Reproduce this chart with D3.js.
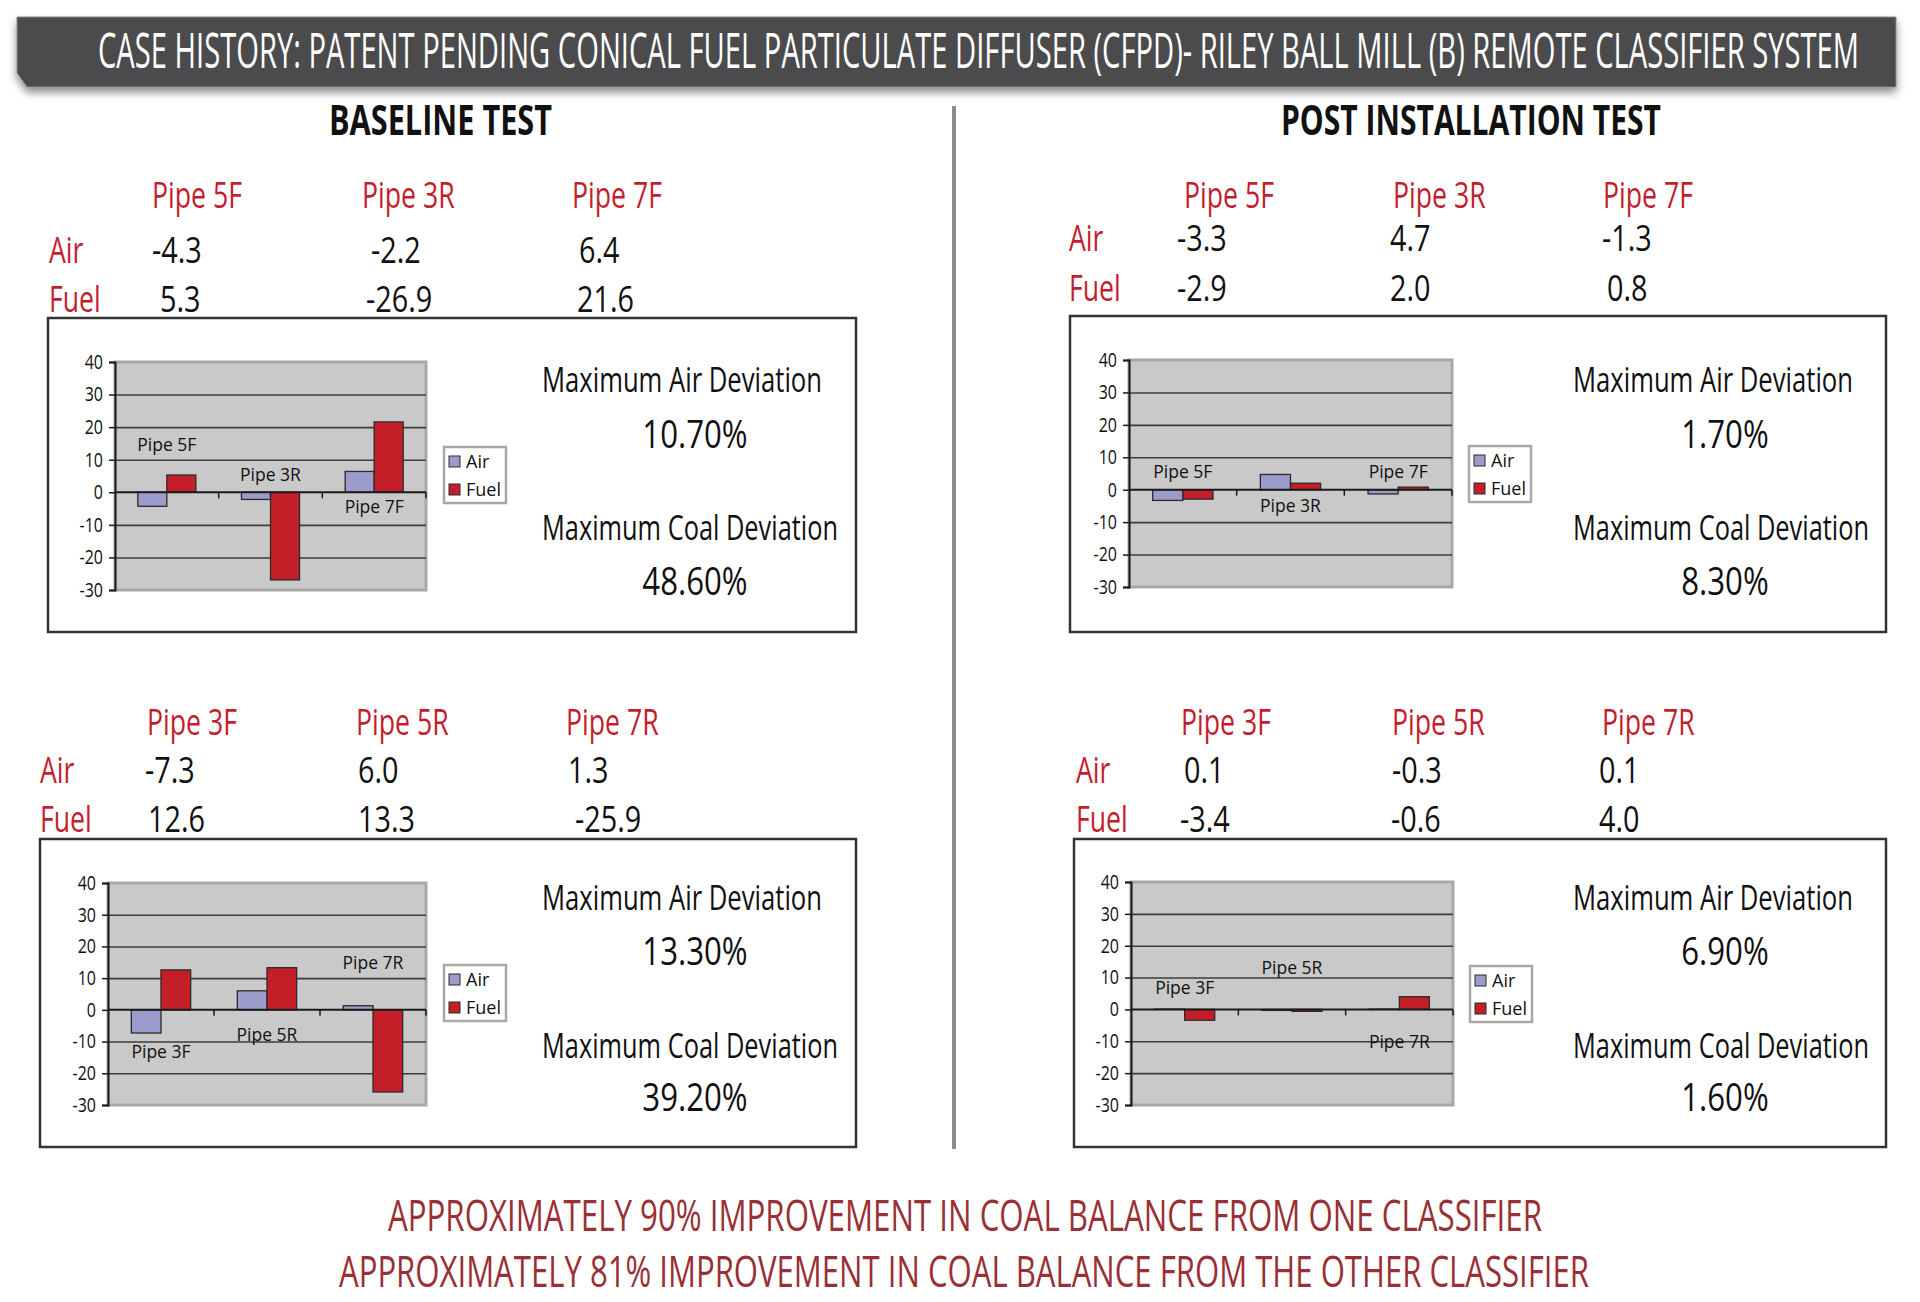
<!DOCTYPE html>
<html>
<head>
<meta charset="utf-8">
<script src="https://cdn.jsdelivr.net/npm/d3@7"></script>
<style>
  body { margin: 0; background: #fff; }
  text { font-family: "Open Sans", "Noto Sans", sans-serif; }
</style>
</head>
<body>
<script>
// chart values
var pipesTop = ["Pipe 5F", "Pipe 3R", "Pipe 7F"];
var pipesBottom = ["Pipe 3F", "Pipe 5R", "Pipe 7R"];
var seriesNames = ["Air", "Fuel"];
var yTicks = [-30, -20, -10, 0, 10, 20, 30, 40];

var baseTopAir = [-4.3, -2.2, 6.4];
var baseTopFuel = [5.3, -26.9, 21.6];
var postTopAir = [-3.3, 4.7, -1.3];
var postTopFuel = [-2.9, 2.0, 0.8];
var baseBotAir = [-7.3, 6.0, 1.3];
var baseBotFuel = [12.6, 13.3, -25.9];
var postBotAir = [0.1, -0.3, 0.1];
var postBotFuel = [-3.4, -0.6, 4.0];

// where the pipe name sits inside each small chart (in chart units)
var baseTopLabelAt = [12.6, 3.4, -6.4];
var postTopLabelAt = [3.7, -6.8, 3.7];
var baseBotLabelAt = [-15.1, -9.8, 12.9];
var postBotLabelAt = [4.7, 11.0, -12.0];

var maxAirDev = ["10.70%", "1.70%", "13.30%", "6.90%"];
var maxCoalDev = ["48.60%", "8.30%", "39.20%", "1.60%"];

var mainTitle = "CASE HISTORY: PATENT PENDING CONICAL FUEL PARTICULATE DIFFUSER (CFPD)- RILEY BALL MILL (B) REMOTE CLASSIFIER SYSTEM";
var sideTitles = ["BASELINE TEST", "POST INSTALLATION TEST"];
var footerLines = [
  "APPROXIMATELY 90% IMPROVEMENT IN COAL BALANCE FROM ONE CLASSIFIER",
  "APPROXIMATELY 81% IMPROVEMENT IN COAL BALANCE FROM THE OTHER CLASSIFIER"
];

var RED = "#c41e2e", AIRC = "#9c9ccc", FUELC = "#c41f28";

var svg = d3.select("body").append("svg")
  .attr("width", 1920).attr("height", 1302);

// plain hyphen for negatives, like the original
function fmt(v) { return v.toFixed(1); }

// squeeze text horizontally to look like a condensed face
function squeeze(sel, k) {
  sel.each(function() {
    var n = this.getComputedTextLength();
    this.setAttribute("textLength", n * k);
    this.setAttribute("lengthAdjust", "spacingAndGlyphs");
  });
  return sel;
}
function fitTo(sel, w) {
  sel.attr("textLength", w).attr("lengthAdjust", "spacingAndGlyphs");
  return sel;
}

var defs = svg.append("defs");
var f = defs.append("filter").attr("id", "shadow")
  .attr("x", "-5%").attr("y", "-30%").attr("width", "110%").attr("height", "170%");
f.append("feDropShadow").attr("dx", 0).attr("dy", 5).attr("stdDeviation", 4)
  .attr("flood-color", "#000").attr("flood-opacity", 0.45);

// header bar
svg.append("path")
  .attr("d", "M17,17 H1896 V87 H27 L17,73 Z")
  .attr("fill", "#4b4b4d")
  .attr("stroke", "#8a8a8a").attr("stroke-width", 1)
  .attr("filter", "url(#shadow)");
fitTo(svg.append("text")
  .attr("x", 98).attr("y", 68)
  .attr("font-size", 49).attr("fill", "#fff")
  .text(mainTitle), 1761);

// section titles
var titleX = [[329, 223], [1281, 380]];
sideTitles.forEach(function(t, i) {
  fitTo(svg.append("text")
    .attr("x", titleX[i][0]).attr("y", 135)
    .attr("font-size", 42).attr("font-weight", 700).attr("fill", "#111")
    .text(t), titleX[i][1]);
});

// divider
svg.append("line")
  .attr("x1", 954).attr("x2", 954).attr("y1", 106).attr("y2", 1149)
  .attr("stroke", "#8c8c8c").attr("stroke-width", 4);

var layout = [
  {box: [48, 318, 808, 314], plot: [115, 362, 311, 228], legend: [444, 447],
   head: [152, 362, 572], vals: [[152, 371, 579], [160, 366, 577]], rowX: 49,
   rowY: [208, 263, 312], textX: 542, pctX: 695, textY: [392, 448, 540, 595]},
  {box: [1070, 316, 816, 316], plot: [1129, 360, 323, 227], legend: [1469, 446],
   head: [1184, 1393, 1603], vals: [[1177, 1390, 1602], [1177, 1390, 1607]], rowX: 1069,
   rowY: [208, 251, 301], textX: 1573, pctX: 1725, textY: [392, 448, 540, 595]},
  {box: [40, 839, 816, 308], plot: [108, 883, 318, 222], legend: [444, 965],
   head: [147, 356, 566], vals: [[145, 358, 568], [148, 358, 575]], rowX: 40,
   rowY: [735, 783, 832], textX: 542, pctX: 695, textY: [910, 965, 1058, 1111]},
  {box: [1074, 839, 812, 308], plot: [1131, 882, 322, 223], legend: [1470, 966],
   head: [1181, 1392, 1602], vals: [[1184, 1392, 1599], [1180, 1391, 1599]], rowX: 1076,
   rowY: [735, 783, 832], textX: 1573, pctX: 1725, textY: [910, 965, 1058, 1111]}
];

var panels = [
  {pipes: pipesTop, air: baseTopAir, fuel: baseTopFuel, labelAt: baseTopLabelAt},
  {pipes: pipesTop, air: postTopAir, fuel: postTopFuel, labelAt: postTopLabelAt},
  {pipes: pipesBottom, air: baseBotAir, fuel: baseBotFuel, labelAt: baseBotLabelAt},
  {pipes: pipesBottom, air: postBotAir, fuel: postBotFuel, labelAt: postBotLabelAt}
];

panels.forEach(function(p, i) {
  var L = layout[i];
  var g = svg.append("g");

  // table above the box
  p.pipes.forEach(function(name, j) {
    squeeze(g.append("text").attr("x", L.head[j]).attr("y", L.rowY[0])
      .attr("font-size", 36).attr("fill", RED).text(name), 0.74);
  });
  seriesNames.forEach(function(s, r) {
    squeeze(g.append("text").attr("x", L.rowX).attr("y", L.rowY[r + 1])
      .attr("font-size", 36).attr("fill", RED).text(s), 0.74);
    var vals = r === 0 ? p.air : p.fuel;
    vals.forEach(function(v, j) {
      squeeze(g.append("text").attr("x", L.vals[r][j]).attr("y", L.rowY[r + 1])
        .attr("font-size", 36).attr("fill", "#111").text(fmt(v)), 0.8);
    });
  });

  // outer box
  g.append("rect")
    .attr("x", L.box[0]).attr("y", L.box[1])
    .attr("width", L.box[2]).attr("height", L.box[3])
    .attr("fill", "none").attr("stroke", "#333").attr("stroke-width", 2.5);

  var px = L.plot[0], py = L.plot[1], pw = L.plot[2], ph = L.plot[3];
  var y = d3.scaleLinear().domain([-30, 40]).range([py + ph, py]);
  var x = d3.scaleBand().domain(p.pipes).range([px, px + pw]);
  var xs = d3.scaleBand().domain(seriesNames).range([0, x.bandwidth()])
    .paddingOuter(0.786);

  // plot area
  g.append("rect").attr("x", px).attr("y", py).attr("width", pw).attr("height", ph)
    .attr("fill", "#c9c9ca").attr("stroke", "#a8a8a8").attr("stroke-width", 3);

  // gridlines
  g.append("g").attr("transform", "translate(" + px + ",0)")
    .call(d3.axisLeft(y).tickValues([-20, -10, 10, 20, 30]).tickSize(-pw).tickFormat(""))
    .call(function(a) {
      a.select(".domain").remove();
      a.selectAll("line").attr("stroke", "#3c3c3c").attr("stroke-width", 1.6);
    });

  // bars
  var rows = p.pipes.map(function(name, j) {
    return [{pipe: name, s: "Air", v: p.air[j]}, {pipe: name, s: "Fuel", v: p.fuel[j]}];
  });
  g.append("g").selectAll("rect")
    .data(d3.merge(rows))
    .enter().append("rect")
    .attr("x", function(d) { return x(d.pipe) + xs(d.s); })
    .attr("y", function(d) { return y(Math.max(0, d.v)); })
    .attr("width", xs.bandwidth())
    .attr("height", function(d) { return Math.abs(y(d.v) - y(0)); })
    .attr("fill", function(d) { return d.s === "Air" ? AIRC : FUELC; })
    .attr("stroke", "#2a2a2a").attr("stroke-width", 1.3);

  // zero line with category ticks
  g.append("line").attr("x1", px).attr("x2", px + pw)
    .attr("y1", y(0)).attr("y2", y(0))
    .attr("stroke", "#1a1a1a").attr("stroke-width", 2);
  p.pipes.forEach(function(name) {
    var bx = x(name) + x.step();
    g.append("line").attr("x1", bx).attr("x2", bx)
      .attr("y1", y(0)).attr("y2", y(0) + 6)
      .attr("stroke", "#1a1a1a").attr("stroke-width", 1.5);
  });

  // y axis
  var ax = g.append("g").attr("transform", "translate(" + px + ",0)")
    .call(d3.axisLeft(y).tickValues(yTicks).tickSize(6).tickPadding(6)
      .tickFormat(function(d) { return String(d); }));
  ax.select(".domain").attr("stroke", "#1a1a1a").attr("stroke-width", 2);
  ax.selectAll("line").attr("stroke", "#1a1a1a").attr("stroke-width", 1.5);
  ax.selectAll("text").attr("font-size", 20).attr("fill", "#111")
    .attr("font-family", "Open Sans");
  squeeze(ax.selectAll("text"), 0.8);

  // pipe names inside the chart
  p.pipes.forEach(function(name, j) {
    g.append("text")
      .attr("x", x(name) + x.bandwidth() / 2).attr("y", y(p.labelAt[j]))
      .attr("text-anchor", "middle").attr("font-size", 17.5).attr("fill", "#111")
      .text(name);
  });

  // legend
  var lx = L.legend[0], ly = L.legend[1];
  g.append("rect").attr("x", lx).attr("y", ly).attr("width", 62).attr("height", 56)
    .attr("fill", "#fff").attr("stroke", "#a8a8a8").attr("stroke-width", 2.5);
  seriesNames.forEach(function(s, r) {
    g.append("rect").attr("x", lx + 5).attr("y", ly + 9 + r * 28)
      .attr("width", 11).attr("height", 11)
      .attr("fill", s === "Air" ? AIRC : FUELC)
      .attr("stroke", "#2a2a2a").attr("stroke-width", 1);
    g.append("text").attr("x", lx + 22).attr("y", ly + 21 + r * 28)
      .attr("font-size", 18).attr("fill", "#111").text(s);
  });

  // deviation text
  fitTo(g.append("text").attr("x", L.textX).attr("y", L.textY[0])
    .attr("font-size", 35).attr("fill", "#111").text("Maximum Air Deviation"), 280);
  squeeze(g.append("text").attr("x", L.pctX).attr("y", L.textY[1])
    .attr("text-anchor", "middle").attr("font-size", 39).attr("fill", "#111")
    .text(maxAirDev[i]), 0.8);
  fitTo(g.append("text").attr("x", L.textX).attr("y", L.textY[2])
    .attr("font-size", 35).attr("fill", "#111").text("Maximum Coal Deviation"), 296);
  squeeze(g.append("text").attr("x", L.pctX).attr("y", L.textY[3])
    .attr("text-anchor", "middle").attr("font-size", 39).attr("fill", "#111")
    .text(maxCoalDev[i]), 0.8);
});

// footer
var footX = [[388, 1154, 1231], [339, 1250, 1287]];
footerLines.forEach(function(t, i) {
  fitTo(svg.append("text")
    .attr("x", footX[i][0]).attr("y", footX[i][2])
    .attr("font-size", 43).attr("fill", "#9a2f35")
    .text(t), footX[i][1]);
});
</script>
</body>
</html>
